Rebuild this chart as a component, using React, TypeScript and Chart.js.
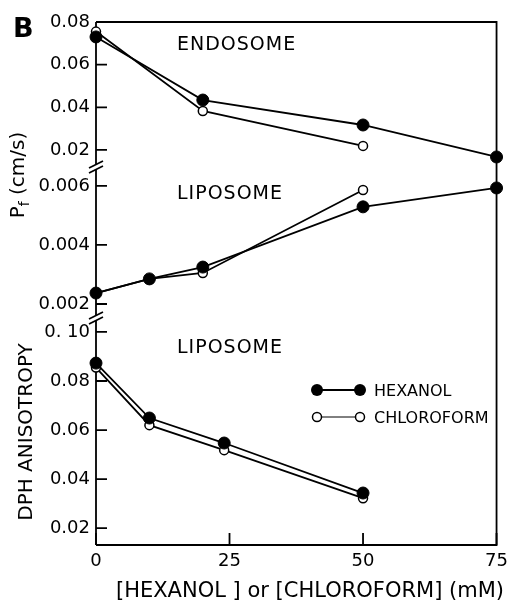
import { useEffect, useRef } from 'react';
import { Chart, registerables } from 'chart.js';

Chart.register(...registerables);

// ---- data ----
const X_TICKS = [0, 25, 50, 75];
const X_TICK_LABELS = ['0', '25', '50', '75'];

const TOP_TICKS = [0.02, 0.04, 0.06, 0.08];
const TOP_TICK_LABELS = ['0.02', '0.04', '0.06', '0.08'];
const MID_TICKS = [0.002, 0.004, 0.006];
const MID_TICK_LABELS = ['0.002', '0.004', '0.006'];
const BOT_TICKS = [0.02, 0.04, 0.06, 0.08, 0.1];
const BOT_TICK_LABELS = ['0.02', '0.04', '0.06', '0.08', '0. 10'];

// Endosome Pf (cm/s)
const ENDO_X_HEX = [0, 20, 50, 75];
const ENDO_HEX = [0.073, 0.0434, 0.0317, 0.0167];
const ENDO_X_CHL = [0, 20, 50];
const ENDO_CHL = [0.0755, 0.0383, 0.0219];

// Liposome Pf (cm/s)
const LIPO_X_HEX = [0, 10, 20, 50, 75];
const LIPO_HEX = [0.00237, 0.00285, 0.00325, 0.00529, 0.00593];
const LIPO_X_CHL = [0, 10, 20, 50];
const LIPO_CHL = [0.00237, 0.00285, 0.00305, 0.00586];

// Liposome DPH anisotropy
const ANIS_X = [0, 10, 24, 50];
const ANIS_HEX = [0.0873, 0.0649, 0.0547, 0.0343];
const ANIS_CHL = [0.0855, 0.062, 0.0518, 0.0322];

const SERIES_NAMES = ['HEXANOL', 'CHLOROFORM'];
const PANEL_LABELS = ['ENDOSOME', 'LIPOSOME', 'LIPOSOME'];
const Y_TITLE_TOP = ['P', 'f', ' (cm/s)'];
const Y_TITLE_BOT = 'DPH ANISOTROPY';
const X_TITLE = '[HEXANOL ] or [CHLOROFORM] (mM)';
const PANEL_LETTER = 'B';

const FONT = '"DejaVu Sans", sans-serif';

const pts = (xs: number[], ys: number[]) => xs.map((x, i) => ({ x, y: ys[i] }));

const framePlugin = {
  id: 'frame',
  beforeDatasetsDraw(chart: any) {
    const { ctx, chartArea: a, scales } = chart;
    const sTop = scales.yTop, sMid = scales.yMid, sBot = scales.yBot, sx = scales.x;
    ctx.save();
    ctx.strokeStyle = '#000';
    ctx.lineWidth = 1.8;
    ctx.beginPath();
    ctx.moveTo(a.left, a.top);
    ctx.lineTo(a.right, a.top);
    ctx.lineTo(a.right, a.bottom);
    ctx.lineTo(a.left, a.bottom);
    ctx.stroke();
    // left axis with breaks
    const breaks = [sTop.bottom, sMid.bottom];
    ctx.beginPath();
    let y0 = a.top;
    for (const b of breaks) {
      ctx.moveTo(a.left, y0);
      ctx.lineTo(a.left, b - 2);
      y0 = b + 3;
    }
    ctx.moveTo(a.left, y0);
    ctx.lineTo(a.left, a.bottom);
    ctx.stroke();
    ctx.beginPath();
    for (const b of breaks) {
      ctx.moveTo(a.left - 7, b + 1);
      ctx.lineTo(a.left + 7, b - 6);
      ctx.moveTo(a.left - 7, b + 6);
      ctx.lineTo(a.left + 7, b - 1);
    }
    ctx.stroke();
    // inward ticks
    ctx.beginPath();
    for (const s of [sTop, sMid, sBot]) {
      for (const t of s.ticks) {
        const y = s.getPixelForValue(t.value);
        ctx.moveTo(a.left, y);
        ctx.lineTo(a.left + 11, y);
      }
    }
    for (const t of sx.ticks) {
      const px = sx.getPixelForValue(t.value);
      ctx.moveTo(px, a.bottom);
      ctx.lineTo(px, a.bottom - 12);
    }
    ctx.stroke();
    ctx.restore();
  },
  afterDraw(chart: any) {
    const { ctx, chartArea: a, scales } = chart;
    const sTop = scales.yTop, sMid = scales.yMid, sBot = scales.yBot;
    ctx.save();
    ctx.fillStyle = '#000';
    ctx.strokeStyle = '#000';
    // panel letter
    ctx.font = `bold 27px ${FONT}`;
    ctx.textAlign = 'left';
    ctx.textBaseline = 'alphabetic';
    ctx.fillText(PANEL_LETTER, 13, 37);
    // panel labels
    ctx.font = `19px ${FONT}`;
    (ctx as any).letterSpacing = '1px';
    ctx.fillText(PANEL_LABELS[0], a.left + 81, sTop.top + 28);
    ctx.fillText(PANEL_LABELS[1], a.left + 81, sMid.top + 32);
    ctx.fillText(PANEL_LABELS[2], a.left + 81, sBot.top + 35);
    (ctx as any).letterSpacing = '0px';
    // legend
    const lx0 = a.left + 221, lx1 = a.left + 264, tx = a.left + 278;
    const ly0 = sBot.top + 72, ly1 = sBot.top + 99;
    ctx.lineWidth = 1.8;
    ctx.beginPath();
    ctx.moveTo(lx0, ly0);
    ctx.lineTo(lx1, ly0);
    ctx.stroke();
    for (const px of [lx0, lx1]) {
      ctx.beginPath();
      ctx.arc(px, ly0, 6, 0, Math.PI * 2);
      ctx.fill();
    }
    ctx.lineWidth = 1;
    ctx.beginPath();
    ctx.moveTo(lx0, ly1);
    ctx.lineTo(lx1, ly1);
    ctx.stroke();
    ctx.lineWidth = 1.5;
    for (const px of [lx0, lx1]) {
      ctx.beginPath();
      ctx.arc(px, ly1, 4.5, 0, Math.PI * 2);
      ctx.fillStyle = '#fff';
      ctx.fill();
      ctx.stroke();
    }
    ctx.fillStyle = '#000';
    ctx.font = `16px ${FONT}`;
    ctx.fillText(SERIES_NAMES[0], tx, ly0 + 6);
    ctx.fillText(SERIES_NAMES[1], tx, ly1 + 6);
    // y title top (Pf (cm/s))
    ctx.save();
    ctx.translate(24, 175);
    ctx.rotate(-Math.PI / 2);
    ctx.font = `20px ${FONT}`;
    const wP = ctx.measureText(Y_TITLE_TOP[0]).width;
    const wRest = ctx.measureText(Y_TITLE_TOP[2]).width;
    ctx.font = `14px ${FONT}`;
    const wf = ctx.measureText(Y_TITLE_TOP[1]).width;
    let u = -(wP + wf + wRest) / 2;
    ctx.font = `20px ${FONT}`;
    ctx.textAlign = 'left';
    ctx.fillText(Y_TITLE_TOP[0], u, 0);
    u += wP;
    ctx.font = `14px ${FONT}`;
    ctx.fillText(Y_TITLE_TOP[1], u, 5);
    u += wf;
    ctx.font = `20px ${FONT}`;
    ctx.fillText(Y_TITLE_TOP[2], u, 0);
    ctx.restore();
    // y title bottom
    ctx.save();
    ctx.translate(32, 432);
    ctx.rotate(-Math.PI / 2);
    ctx.font = `20px ${FONT}`;
    ctx.textAlign = 'center';
    ctx.fillText(Y_TITLE_BOT, 0, 0);
    ctx.restore();
    // x title
    ctx.font = `21px ${FONT}`;
    ctx.textAlign = 'center';
    ctx.fillText(X_TITLE, 310, 597);
    ctx.restore();
  },
};

export default function App() {
  const ref = useRef<HTMLCanvasElement>(null);
  useEffect(() => {
    if (!ref.current) return;
    const hex = {
      borderColor: '#000',
      backgroundColor: '#000',
      borderWidth: 1.8,
      pointRadius: 6,
      pointBackgroundColor: '#000',
      pointBorderColor: '#000',
      pointBorderWidth: 1,
      clip: false as any,
      tension: 0,
    };
    const chl = {
      borderColor: '#000',
      backgroundColor: '#fff',
      borderWidth: 1.8,
      pointRadius: 4.5,
      pointBackgroundColor: '#fff',
      pointBorderColor: '#000',
      pointBorderWidth: 1.5,
      clip: false as any,
      tension: 0,
    };
    const yBase = (ticks: number[], labels: string[]) => ({
      type: 'linear' as const,
      position: 'left' as const,
      stack: 'panels',
      grid: { display: false, drawTicks: false },
      border: { display: false },
      afterBuildTicks: (s: any) => {
        s.ticks = ticks.map((v) => ({ value: v }));
      },
      afterFit: (s: any) => {
        s.width = 96;
      },
      ticks: {
        padding: 6,
        color: '#000',
        font: { family: FONT, size: 18 },
        callback: (_v: any, i: number) => labels[i],
      },
    });
    const chart = new Chart(ref.current, {
      type: 'line',
      data: {
        datasets: [
          { label: SERIES_NAMES[0], data: pts(ENDO_X_HEX, ENDO_HEX), yAxisID: 'yTop', ...hex },
          { label: SERIES_NAMES[0], data: pts(LIPO_X_HEX, LIPO_HEX), yAxisID: 'yMid', ...hex },
          { label: SERIES_NAMES[0], data: pts(ANIS_X, ANIS_HEX), yAxisID: 'yBot', ...hex },
          { label: SERIES_NAMES[1], data: pts(ENDO_X_CHL, ENDO_CHL), yAxisID: 'yTop', ...chl },
          { label: SERIES_NAMES[1], data: pts(LIPO_X_CHL, LIPO_CHL), yAxisID: 'yMid', ...chl },
          { label: SERIES_NAMES[1], data: pts(ANIS_X, ANIS_CHL), yAxisID: 'yBot', ...chl },
        ],
      },
      options: {
        animation: false,
        responsive: false,
        layout: { padding: { left: 0, top: 22, right: 14, bottom: 0 } },
        plugins: { legend: { display: false }, tooltip: { enabled: false } },
        scales: {
          x: {
            type: 'linear',
            min: 0,
            max: 75,
            grid: { display: false, drawTicks: false },
            border: { display: false },
            afterBuildTicks: (s: any) => {
              s.ticks = X_TICKS.map((v) => ({ value: v }));
            },
            afterFit: (s: any) => {
              s.height = 58;
            },
            ticks: {
              padding: 6,
              color: '#000',
              maxRotation: 0,
              font: { family: FONT, size: 18 },
              callback: (_v: any, i: number) => X_TICK_LABELS[i],
            },
          },
          yBot: { ...yBase(BOT_TICKS, BOT_TICK_LABELS), min: 0.0131, max: 0.1057, stackWeight: 227, weight: 1 },
          yMid: { ...yBase(MID_TICKS, MID_TICK_LABELS), min: 0.001525, max: 0.00664, stackWeight: 151, weight: 2 },
          yTop: { ...yBase(TOP_TICKS, TOP_TICK_LABELS), min: 0.012, max: 0.08, stackWeight: 145, weight: 3 },
        } as any,
      },
      plugins: [framePlugin],
    });
    return () => chart.destroy();
  }, []);
  return (
    <div style={{ position: 'absolute', left: 0, top: 0, width: 514, height: 603, background: '#fff' }}>
      <canvas ref={ref} width={514} height={603} style={{ width: 514, height: 603, display: 'block' }} />
    </div>
  );
}
